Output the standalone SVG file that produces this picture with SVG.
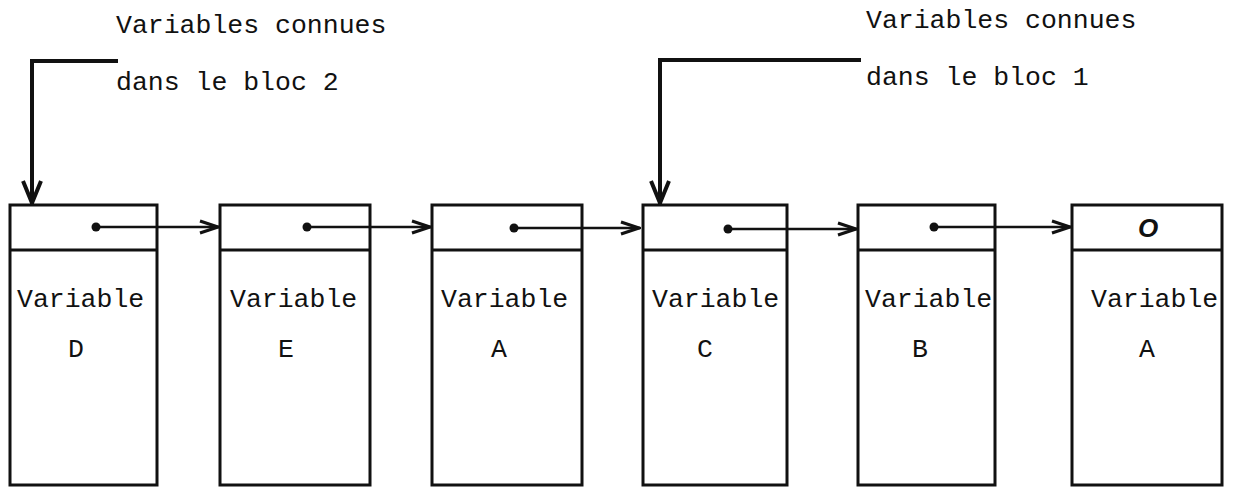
<svg xmlns="http://www.w3.org/2000/svg" width="1237" height="488" viewBox="0 0 1237 488">
  <style>
    .box { fill: none; stroke: #111; stroke-width: 3; }
    .div { stroke: #111; stroke-width: 3; }
    .t { font-family: "Liberation Mono", "DejaVu Sans Mono", monospace; font-size: 26.5px; fill: #111; }
    .link { fill: none; stroke: #111; stroke-width: 2.5; marker-end: url(#chev); }
    .ptr { fill: none; stroke: #111; stroke-width: 4; marker-end: url(#chevd); }
    .dot { fill: #111; }
  </style>
  <defs>
    <marker id="chev" viewBox="0 0 22 16" refX="21" refY="8" markerWidth="22" markerHeight="16" markerUnits="userSpaceOnUse" orient="auto">
      <path d="M2,2 L20,8 L2,14" fill="none" stroke="#111" stroke-width="3.2" stroke-linejoin="miter"/>
    </marker>
    <marker id="chevd" viewBox="0 0 26 22" refX="25" refY="11" markerWidth="26" markerHeight="22" markerUnits="userSpaceOnUse" orient="auto">
      <path d="M2,2 L24,11 L2,20" fill="none" stroke="#111" stroke-width="4" stroke-linejoin="miter"/>
    </marker>
  </defs>

  <g id="label-bloc2">
    <text class="t" x="116" y="33">Variables connues</text>
    <text class="t" x="116" y="90">dans le bloc 2</text>
  </g>
  <g id="label-bloc1">
    <text class="t" x="866" y="28">Variables connues</text>
    <text class="t" x="866" y="85">dans le bloc 1</text>
  </g>

  <g id="node-D">
    <rect class="box" x="10" y="205" width="147" height="280"/>
    <line class="div" x1="10" y1="250" x2="157" y2="250"/>
    <text class="t" x="17" y="307">Variable</text>
    <text class="t" x="76" y="357" text-anchor="middle">D</text>
  </g>
  <g id="node-E">
    <rect class="box" x="220" y="205" width="150" height="280"/>
    <line class="div" x1="220" y1="250" x2="370" y2="250"/>
    <text class="t" x="230" y="307">Variable</text>
    <text class="t" x="286" y="357" text-anchor="middle">E</text>
  </g>
  <g id="node-A1">
    <rect class="box" x="432" y="205" width="150" height="280"/>
    <line class="div" x1="432" y1="250" x2="582" y2="250"/>
    <text class="t" x="441" y="307">Variable</text>
    <text class="t" x="499" y="357" text-anchor="middle">A</text>
  </g>
  <g id="node-C">
    <rect class="box" x="643" y="205" width="144" height="280"/>
    <line class="div" x1="643" y1="250" x2="787" y2="250"/>
    <text class="t" x="652" y="307">Variable</text>
    <text class="t" x="705" y="357" text-anchor="middle">C</text>
  </g>
  <g id="node-B">
    <rect class="box" x="858" y="205" width="137" height="280"/>
    <line class="div" x1="858" y1="250" x2="995" y2="250"/>
    <text class="t" x="865" y="307">Variable</text>
    <text class="t" x="920" y="357" text-anchor="middle">B</text>
  </g>
  <g id="node-A2">
    <rect class="box" x="1072" y="205" width="150" height="280"/>
    <line class="div" x1="1072" y1="250" x2="1222" y2="250"/>
    <text x="1148" y="237" text-anchor="middle" style="font-family: 'Liberation Sans', Arial, sans-serif; font-size: 26px; font-weight: bold; font-style: italic; fill: #111;">O</text>
    <text class="t" x="1091" y="307">Variable</text>
    <text class="t" x="1147" y="357" text-anchor="middle">A</text>
  </g>

  <g id="connectors">
    <circle class="dot" cx="96" cy="227" r="4.5"/>
    <path class="link" d="M96,227 L219,227"/>
    <circle class="dot" cx="307" cy="227" r="4.5"/>
    <path class="link" d="M307,227 L431,227"/>
    <circle class="dot" cx="514" cy="228" r="4.5"/>
    <path class="link" d="M514,228 L640,228"/>
    <circle class="dot" cx="728" cy="229" r="4.5"/>
    <path class="link" d="M728,229 L857,229"/>
    <circle class="dot" cx="934" cy="227" r="4.5"/>
    <path class="link" d="M934,227 L1071,227"/>
    <path class="ptr" d="M118,61 L32,61 L32,204"/>
    <path class="ptr" d="M861,60 L660,60 L660,204"/>
  </g>
</svg>
